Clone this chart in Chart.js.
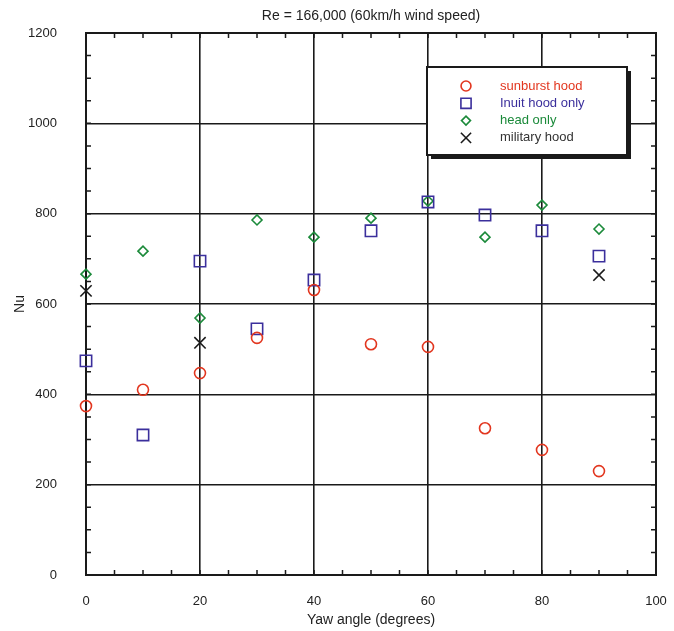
<!DOCTYPE html>
<html lang="en">
<head>
    <meta charset="UTF-8">
    <title>Re = 166,000 (60km/h wind speed)</title>
    <script src="https://cdn.jsdelivr.net/npm/chart.js"></script>
    <style>
        html, body { margin: 0; padding: 0; background: #fff; }
        #chart { display: block; }
    </style>
</head>
<body>
    <canvas id="chart" width="674" height="631"></canvas>

    <script>
        // Yaw angle (degrees)
        const yaw = [0, 10, 20, 30, 40, 50, 60, 70, 80, 90];
        const militaryYaw = [0, 20, 90];

        // Nu values
        const sunburst = [374, 410, 447, 525, 631, 511, 505, 325, 277, 230];
        const inuit = [474, 310, 695, 545, 653, 762, 826, 797, 762, 706];
        const headOnly = [666, 717, 569, 786, 748, 790, 828, 748, 819, 766];
        const military = [629, 514, 664];

        const seriesLabels = ['sunburst hood', 'Inuit hood only', 'head only', 'military hood'];
        const seriesColors = ['#e2361f', '#3b2f9c', '#1b8a3a', '#1a1a1a'];
        const seriesStyles = ['circle', 'rect', 'rectRot', 'crossRot'];
        const seriesRadius = [5.5, 8, 5, 8];

        const FONT = "'Liberation Sans', Arial, Helvetica, sans-serif";

        function toPoints(xs, ys) {
            return xs.map((x, i) => ({ x: x, y: ys[i] }));
        }

        const allData = [
            toPoints(yaw, sunburst),
            toPoints(yaw, inuit),
            toPoints(yaw, headOnly),
            toPoints(militaryYaw, military)
        ];

        const datasets = allData.map((d, i) => ({
            label: seriesLabels[i],
            data: d,
            showLine: false,
            clip: false,
            pointStyle: seriesStyles[i],
            pointRadius: seriesRadius[i],
            pointHoverRadius: seriesRadius[i],
            pointBorderWidth: 1.6,
            borderColor: seriesColors[i],
            backgroundColor: 'rgba(0,0,0,0)'
        }));

        // minor ticks on all four sides, pointing inward, plus frame and title
        const framePlugin = {
            id: 'frame',
            beforeDatasetsDraw(chart) {
                const ctx = chart.ctx;
                const a = chart.chartArea;
                const xs = chart.scales.x;
                const ys = chart.scales.y;
                const len = 5;
                ctx.save();
                ctx.strokeStyle = '#1a1a1a';
                ctx.lineWidth = 1.5;
                ctx.beginPath();
                for (let v = 0; v <= 100; v += 5) {
                    const px = xs.getPixelForValue(v);
                    ctx.moveTo(px, a.bottom); ctx.lineTo(px, a.bottom - len);
                    ctx.moveTo(px, a.top); ctx.lineTo(px, a.top + len);
                }
                for (let v = 0; v <= 1200; v += 50) {
                    const py = ys.getPixelForValue(v);
                    ctx.moveTo(a.left, py); ctx.lineTo(a.left + len, py);
                    ctx.moveTo(a.right, py); ctx.lineTo(a.right - len, py);
                }
                ctx.stroke();

                ctx.lineWidth = 2;
                ctx.strokeRect(a.left, a.top, a.right - a.left, a.bottom - a.top);

                ctx.fillStyle = '#222';
                ctx.font = '14px ' + FONT;
                ctx.textAlign = 'center';
                ctx.textBaseline = 'middle';
                ctx.fillText('Re = 166,000 (60km/h wind speed)', (a.left + a.right) / 2, 16);
                ctx.restore();
            }
        };

        // boxed legend with drop shadow inside the plot
        const boxLegendPlugin = {
            id: 'boxLegend',
            afterDraw(chart) {
                const ctx = chart.ctx;
                const bx = 427, by = 67, bw = 200, bh = 88;
                ctx.save();
                ctx.fillStyle = '#1a1a1a';
                ctx.fillRect(bx + 4, by + 4, bw, bh);
                ctx.fillStyle = '#fff';
                ctx.fillRect(bx, by, bw, bh);
                ctx.strokeStyle = '#1a1a1a';
                ctx.lineWidth = 2;
                ctx.strokeRect(bx, by, bw, bh);

                ctx.font = '13px ' + FONT;
                ctx.textAlign = 'left';
                ctx.textBaseline = 'middle';
                chart.data.datasets.forEach((ds, i) => {
                    const y = by + 19 + i * 17.3;
                    ctx.strokeStyle = ds.borderColor;
                    ctx.fillStyle = 'rgba(0,0,0,0)';
                    ctx.lineWidth = 1.6;
                    Chart.helpers.drawPoint(ctx, {
                        pointStyle: ds.pointStyle,
                        radius: ds.pointRadius * 0.9,
                        rotation: 0,
                        borderWidth: 1.6
                    }, 466, y);
                    ctx.fillStyle = i === 3 ? '#333' : ds.borderColor;
                    ctx.fillText(ds.label, 500, y);
                });
                ctx.restore();
            }
        };

        const chart = new Chart(document.getElementById('chart').getContext('2d'), {
            type: 'scatter',
            data: { datasets: datasets },
            options: {
                responsive: false,
                animation: false,
                layout: { padding: { top: 33, right: 18, left: 0, bottom: 0 } },
                plugins: {
                    legend: { display: false },
                    tooltip: { enabled: false }
                },
                scales: {
                    x: {
                        type: 'linear',
                        min: 0,
                        max: 100,
                        afterFit: s => {
                            s.height = 56;
                            s.paddingLeft = 0;
                            s.paddingRight = 0;
                        },
                        border: { display: false },
                        grid: { color: '#1a1a1a', lineWidth: 1.6, drawTicks: false },
                        ticks: {
                            stepSize: 20,
                            padding: 19,
                            color: '#222',
                            font: { family: FONT, size: 13 }
                        },
                        title: {
                            display: true,
                            text: 'Yaw angle (degrees)',
                            color: '#222',
                            font: { family: FONT, size: 14 },
                            padding: { top: 0, bottom: 2 }
                        }
                    },
                    y: {
                        type: 'linear',
                        min: 0,
                        max: 1200,
                        afterFit: s => {
                            s.width = 86;
                            s.paddingTop = 0;
                            s.paddingBottom = 0;
                        },
                        border: { display: false },
                        grid: { color: '#1a1a1a', lineWidth: 1.6, drawTicks: false },
                        ticks: {
                            stepSize: 200,
                            padding: 29,
                            color: '#222',
                            font: { family: FONT, size: 13 },
                            callback: v => String(v)
                        },
                        title: {
                            display: true,
                            text: 'Nu',
                            color: '#222',
                            font: { family: FONT, size: 14 },
                            padding: { top: 12, bottom: 0 }
                        }
                    }
                }
            },
            plugins: [framePlugin, boxLegendPlugin]
        });
    </script>
</body>
</html>
